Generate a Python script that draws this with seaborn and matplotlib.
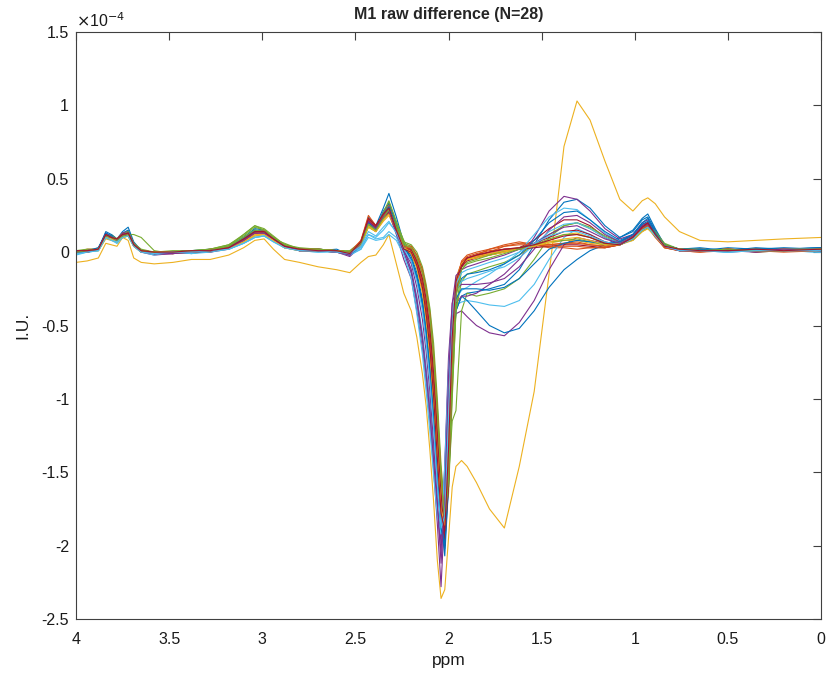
import numpy as np
import pandas as pd
import matplotlib
matplotlib.use("Agg")
import matplotlib.pyplot as plt
import seaborn as sns

# chemical shift grid (ppm)
ppm = [4.00, 3.94, 3.88, 3.84, 3.81, 3.78, 3.75, 3.72, 3.69, 3.65,
       3.58, 3.48, 3.38, 3.28, 3.18, 3.10, 3.04, 2.99, 2.94, 2.88, 2.80, 2.70, 2.60,
       2.53, 2.47, 2.43, 2.39, 2.35, 2.32, 2.28, 2.24,
       2.20, 2.17, 2.14, 2.12, 2.10, 2.08, 2.06, 2.04, 2.02, 2.00, 1.98, 1.96, 1.93, 1.90,
       1.85, 1.78, 1.70, 1.62, 1.54, 1.46, 1.38, 1.31, 1.24, 1.16, 1.08,
       1.01, 0.96, 0.93, 0.89, 0.84, 0.76, 0.65, 0.50, 0.35, 0.20, 0.00]

# difference spectra, in units of 1e-4 I.U.
subj01 = [0.01, 0.00, 0.03, 0.13, 0.10, 0.09, 0.14, 0.17, 0.07, 0.01,
          -0.01, 0.00, -0.01, 0.01, 0.04, 0.10, 0.16, 0.15, 0.10, 0.04, 0.02, 0.01, 0.02,
          -0.02, 0.06, 0.24, 0.18, 0.30, 0.40, 0.24, 0.06,
          -0.06, -0.18, -0.36, -0.55, -0.80, -1.12, -1.50, -1.85, -2.07, -1.60, -0.80, -0.40, -0.30, -0.28,
          -0.27, -0.25, -0.22, -0.12, 0.05, 0.22, 0.34, 0.36, 0.30, 0.18, 0.10,
          0.14, 0.22, 0.24, 0.15, 0.05, 0.02, 0.03, 0.01, 0.03, 0.02, 0.03]
subj02 = [0.00, 0.02, 0.02, 0.11, 0.09, 0.08, 0.12, 0.13, 0.05, 0.01,
          0.00, -0.01, 0.01, 0.01, 0.03, 0.09, 0.14, 0.13, 0.08, 0.03, 0.02, 0.02, 0.01,
          0.00, 0.07, 0.22, 0.17, 0.25, 0.30, 0.18, 0.04,
          0.02, -0.06, -0.20, -0.35, -0.55, -0.85, -1.25, -1.65, -1.85, -1.30, -0.55, -0.18, -0.07, -0.04,
          -0.02, 0.02, 0.05, 0.07, 0.05, 0.03, 0.03, 0.02, 0.03, 0.03, 0.05,
          0.09, 0.15, 0.17, 0.10, 0.03, 0.01, 0.00, 0.02, 0.01, 0.02, 0.01]
subj03 = [-0.07, -0.06, -0.04, 0.06, 0.05, 0.04, 0.10, 0.08, -0.04, -0.07,
          -0.08, -0.07, -0.05, -0.05, -0.02, 0.03, 0.08, 0.09, 0.02, -0.05, -0.07, -0.10, -0.12,
          -0.14, -0.07, -0.03, -0.02, 0.05, 0.12, -0.08, -0.28,
          -0.40, -0.58, -0.83, -1.05, -1.35, -1.70, -2.10, -2.36, -2.30, -1.95, -1.60, -1.46, -1.42, -1.46,
          -1.57, -1.75, -1.88, -1.46, -0.95, -0.15, 0.72, 1.03, 0.90, 0.62, 0.36,
          0.28, 0.35, 0.37, 0.33, 0.24, 0.14, 0.08, 0.07, 0.08, 0.09, 0.10]
subj04 = [-0.01, 0.01, 0.02, 0.12, 0.11, 0.07, 0.12, 0.14, 0.05, 0.00,
          -0.02, -0.01, 0.00, 0.00, 0.02, 0.07, 0.12, 0.13, 0.09, 0.04, 0.01, 0.02, 0.00,
          -0.03, 0.04, 0.18, 0.14, 0.22, 0.27, 0.12, -0.05,
          -0.18, -0.40, -0.65, -0.88, -1.15, -1.48, -1.85, -2.28, -1.75, -0.95, -0.52, -0.42, -0.40, -0.44,
          -0.50, -0.55, -0.57, -0.48, -0.33, -0.12, 0.05, 0.10, 0.08, 0.06, 0.07,
          0.12, 0.19, 0.20, 0.12, 0.04, 0.01, 0.02, 0.00, 0.01, 0.02, 0.01]
subj05 = [0.00, 0.01, 0.01, 0.10, 0.12, 0.09, 0.11, 0.12, 0.12, 0.10,
          0.01, -0.01, 0.00, 0.02, 0.05, 0.12, 0.18, 0.15, 0.09, 0.06, 0.02, 0.02, 0.01,
          0.00, 0.05, 0.17, 0.14, 0.26, 0.34, 0.20, 0.08,
          -0.02, -0.10, -0.25, -0.42, -0.65, -0.95, -1.35, -1.70, -1.85, -1.55, -1.15, -1.08, -0.40, -0.28,
          -0.30, -0.28, -0.25, -0.18, -0.05, 0.10, 0.18, 0.20, 0.16, 0.10, 0.06,
          0.08, 0.14, 0.17, 0.13, 0.05, 0.02, 0.01, 0.02, 0.00, 0.01, 0.02]
subj06 = [-0.02, 0.00, 0.01, 0.10, 0.08, 0.06, 0.10, 0.11, 0.04, 0.00,
          -0.01, 0.00, 0.00, 0.01, 0.02, 0.06, 0.10, 0.11, 0.08, 0.03, 0.01, 0.01, 0.00,
          -0.02, 0.02, 0.12, 0.10, 0.15, 0.20, 0.14, 0.02,
          -0.12, -0.30, -0.55, -0.78, -1.02, -1.32, -1.65, -1.85, -1.55, -0.85, -0.45, -0.36, -0.34, -0.33,
          -0.34, -0.36, -0.37, -0.33, -0.22, -0.05, 0.10, 0.16, 0.12, 0.06, 0.05,
          0.10, 0.16, 0.18, 0.12, 0.04, 0.02, 0.01, 0.00, 0.02, 0.01, 0.00]
subj07 = [0.01, 0.01, 0.02, 0.11, 0.10, 0.08, 0.12, 0.12, 0.05, 0.01,
          -0.01, -0.01, 0.01, 0.01, 0.03, 0.08, 0.13, 0.14, 0.10, 0.05, 0.02, 0.01, 0.01,
          -0.01, 0.06, 0.21, 0.16, 0.24, 0.28, 0.15, 0.02,
          0.01, -0.08, -0.22, -0.38, -0.60, -0.90, -1.30, -1.70, -2.00, -1.45, -0.65, -0.22, -0.10, -0.06,
          -0.04, -0.02, 0.00, 0.03, 0.08, 0.16, 0.22, 0.22, 0.18, 0.10, 0.06,
          0.09, 0.16, 0.18, 0.11, 0.04, 0.01, 0.01, 0.02, 0.00, 0.01, 0.02]
subj08 = [0.00, 0.01, 0.02, 0.14, 0.12, 0.09, 0.13, 0.15, 0.06, 0.01,
          0.00, 0.00, 0.01, 0.02, 0.03, 0.09, 0.15, 0.14, 0.10, 0.04, 0.02, 0.02, 0.01,
          -0.01, 0.05, 0.20, 0.16, 0.28, 0.33, 0.19, 0.05,
          -0.03, -0.14, -0.32, -0.52, -0.78, -1.10, -1.50, -1.85, -2.00, -1.60, -0.80, -0.40, -0.30, -0.33,
          -0.40, -0.50, -0.55, -0.52, -0.40, -0.24, -0.12, -0.05, 0.01, 0.05, 0.10,
          0.15, 0.23, 0.26, 0.16, 0.05, 0.02, 0.01, 0.03, 0.02, 0.02, 0.03]
subj09 = [0.01, 0.00, 0.02, 0.12, 0.10, 0.09, 0.13, 0.14, 0.06, 0.01,
          -0.01, 0.00, 0.00, 0.01, 0.04, 0.09, 0.14, 0.15, 0.10, 0.04, 0.01, 0.01, 0.00,
          -0.02, 0.08, 0.25, 0.18, 0.26, 0.32, 0.16, 0.03,
          0.03, -0.04, -0.15, -0.28, -0.45, -0.72, -1.10, -1.55, -1.80, -1.55, -0.80, -0.30, -0.10, -0.05,
          -0.03, 0.00, 0.04, 0.06, 0.06, 0.05, 0.06, 0.07, 0.05, 0.04, 0.06,
          0.11, 0.18, 0.20, 0.12, 0.04, 0.02, 0.01, 0.01, 0.02, 0.01, 0.02]
subj10 = [0.00, 0.01, 0.01, 0.10, 0.09, 0.07, 0.11, 0.12, 0.05, 0.00,
          0.00, -0.01, 0.00, 0.01, 0.03, 0.08, 0.12, 0.13, 0.09, 0.03, 0.02, 0.01, 0.01,
          0.00, 0.06, 0.19, 0.15, 0.22, 0.27, 0.16, 0.04,
          0.00, -0.10, -0.26, -0.44, -0.68, -1.00, -1.40, -1.78, -1.90, -1.25, -0.50, -0.18, -0.08, -0.05,
          -0.03, -0.02, 0.00, 0.02, 0.04, 0.06, 0.08, 0.08, 0.06, 0.05, 0.06,
          0.10, 0.15, 0.17, 0.12, 0.04, 0.01, 0.02, 0.01, 0.02, 0.02, 0.01]
subj11 = [0.01, 0.00, 0.02, 0.13, 0.11, 0.08, 0.13, 0.14, 0.06, 0.01,
          -0.01, 0.00, 0.00, 0.01, 0.03, 0.08, 0.13, 0.14, 0.10, 0.04, 0.01, 0.02, 0.01,
          -0.02, 0.05, 0.20, 0.17, 0.25, 0.29, 0.15, 0.02,
          -0.12, -0.32, -0.58, -0.82, -1.08, -1.40, -1.75, -2.05, -1.50, -0.80, -0.45, -0.35, -0.30, -0.30,
          -0.28, -0.22, -0.15, -0.05, 0.10, 0.28, 0.38, 0.36, 0.28, 0.16, 0.09,
          0.12, 0.20, 0.22, 0.14, 0.05, 0.01, 0.02, 0.01, 0.01, 0.02, 0.02]
subj12 = [0.01, 0.02, 0.02, 0.11, 0.10, 0.08, 0.12, 0.13, 0.06, 0.02,
          0.00, 0.01, 0.01, 0.02, 0.05, 0.11, 0.17, 0.15, 0.10, 0.05, 0.03, 0.02, 0.01,
          0.01, 0.07, 0.20, 0.16, 0.24, 0.30, 0.19, 0.06,
          0.04, -0.02, -0.12, -0.24, -0.40, -0.68, -1.05, -1.50, -1.80, -1.60, -0.95, -0.40, -0.20, -0.15,
          -0.13, -0.10, -0.07, -0.02, 0.05, 0.12, 0.18, 0.20, 0.17, 0.11, 0.07,
          0.10, 0.17, 0.19, 0.13, 0.05, 0.02, 0.02, 0.01, 0.02, 0.01, 0.01]
subj13 = [-0.01, 0.00, 0.02, 0.11, 0.09, 0.07, 0.10, 0.12, 0.05, 0.00,
          -0.02, 0.00, 0.00, 0.01, 0.02, 0.07, 0.11, 0.12, 0.08, 0.03, 0.01, 0.00, 0.01,
          -0.01, 0.03, 0.12, 0.09, 0.10, 0.14, 0.10, 0.00,
          -0.15, -0.36, -0.62, -0.86, -1.12, -1.42, -1.72, -1.95, -1.55, -0.90, -0.50, -0.32, -0.26, -0.24,
          -0.20, -0.15, -0.08, 0.00, 0.12, 0.24, 0.30, 0.29, 0.22, 0.13, 0.07,
          0.10, 0.17, 0.19, 0.12, 0.04, 0.01, 0.02, 0.00, 0.02, 0.01, 0.00]
subj14 = [0.00, 0.01, 0.02, 0.12, 0.11, 0.08, 0.12, 0.13, 0.05, 0.01,
          0.00, 0.00, 0.01, 0.00, 0.03, 0.08, 0.13, 0.14, 0.09, 0.04, 0.02, 0.01, 0.01,
          -0.01, 0.07, 0.22, 0.18, 0.25, 0.29, 0.14, 0.01,
          -0.01, -0.10, -0.26, -0.44, -0.68, -1.00, -1.42, -1.80, -1.92, -1.35, -0.60, -0.22, -0.10, -0.05,
          -0.03, -0.01, 0.01, 0.03, 0.06, 0.10, 0.14, 0.15, 0.12, 0.07, 0.05,
          0.09, 0.16, 0.19, 0.12, 0.04, 0.02, 0.01, 0.02, 0.01, 0.02, 0.01]
subj15 = [0.00, 0.01, 0.03, 0.12, 0.11, 0.08, 0.12, 0.14, 0.06, 0.01,
          -0.01, 0.00, 0.01, 0.01, 0.04, 0.10, 0.15, 0.14, 0.09, 0.04, 0.02, 0.01, 0.01,
          -0.02, 0.05, 0.19, 0.15, 0.24, 0.30, 0.17, 0.04,
          -0.05, -0.17, -0.36, -0.56, -0.82, -1.15, -1.55, -1.90, -1.95, -1.30, -0.60, -0.28, -0.18, -0.15,
          -0.14, -0.12, -0.08, -0.02, 0.08, 0.20, 0.27, 0.28, 0.22, 0.14, 0.08,
          0.12, 0.20, 0.23, 0.14, 0.05, 0.02, 0.02, 0.01, 0.02, 0.03, 0.02]
subj16 = [0.01, 0.01, 0.02, 0.11, 0.10, 0.08, 0.12, 0.12, 0.05, 0.01,
          0.00, 0.00, 0.00, 0.02, 0.03, 0.08, 0.13, 0.14, 0.09, 0.04, 0.02, 0.01, 0.01,
          0.00, 0.07, 0.23, 0.17, 0.24, 0.28, 0.15, 0.03,
          0.02, -0.06, -0.18, -0.33, -0.52, -0.82, -1.22, -1.65, -1.88, -1.40, -0.62, -0.20, -0.07, -0.03,
          -0.01, 0.01, 0.02, 0.03, 0.04, 0.05, 0.06, 0.06, 0.05, 0.04, 0.05,
          0.10, 0.16, 0.18, 0.11, 0.03, 0.01, 0.01, 0.02, 0.01, 0.01, 0.02]
subj17 = [0.01, 0.01, 0.01, 0.09, 0.08, 0.07, 0.10, 0.11, 0.04, 0.00,
          -0.01, 0.00, 0.00, 0.01, 0.02, 0.07, 0.11, 0.12, 0.08, 0.03, 0.01, 0.01, 0.00,
          -0.01, 0.05, 0.17, 0.14, 0.21, 0.25, 0.14, 0.03,
          -0.01, -0.11, -0.28, -0.48, -0.72, -1.05, -1.45, -1.80, -1.88, -1.30, -0.55, -0.20, -0.09, -0.05,
          -0.04, -0.02, 0.00, 0.02, 0.04, 0.08, 0.12, 0.13, 0.10, 0.06, 0.05,
          0.08, 0.14, 0.16, 0.11, 0.04, 0.02, 0.01, 0.02, 0.01, 0.02, 0.01]
subj18 = [0.00, 0.01, 0.02, 0.12, 0.10, 0.08, 0.12, 0.13, 0.06, 0.01,
          -0.01, -0.01, 0.00, 0.01, 0.03, 0.08, 0.13, 0.13, 0.09, 0.04, 0.01, 0.01, 0.00,
          -0.02, 0.06, 0.21, 0.16, 0.23, 0.27, 0.13, 0.00,
          -0.14, -0.34, -0.60, -0.84, -1.10, -1.42, -1.75, -1.98, -1.45, -0.72, -0.35, -0.25, -0.22, -0.22,
          -0.22, -0.21, -0.18, -0.10, 0.02, 0.15, 0.24, 0.25, 0.20, 0.12, 0.07,
          0.11, 0.18, 0.20, 0.13, 0.04, 0.01, 0.02, 0.01, 0.00, 0.02, 0.01]
subj19 = [0.01, 0.01, 0.02, 0.12, 0.11, 0.09, 0.12, 0.14, 0.06, 0.01,
          0.00, 0.00, 0.01, 0.02, 0.04, 0.12, 0.18, 0.16, 0.11, 0.05, 0.02, 0.02, 0.01,
          0.00, 0.06, 0.21, 0.16, 0.27, 0.35, 0.21, 0.07,
          0.05, 0.00, -0.10, -0.22, -0.38, -0.62, -1.00, -1.45, -1.75, -1.65, -1.00, -0.40, -0.12, -0.07,
          -0.05, -0.02, 0.01, 0.03, 0.05, 0.07, 0.08, 0.09, 0.07, 0.05, 0.06,
          0.10, 0.16, 0.19, 0.14, 0.06, 0.02, 0.02, 0.01, 0.02, 0.01, 0.02]
subj20 = [-0.01, 0.00, 0.01, 0.10, 0.09, 0.06, 0.10, 0.11, 0.04, 0.00,
          -0.01, 0.00, -0.01, 0.00, 0.02, 0.06, 0.10, 0.11, 0.07, 0.03, 0.01, 0.00, 0.00,
          -0.02, 0.02, 0.10, 0.08, 0.09, 0.12, 0.08, -0.02,
          -0.18, -0.42, -0.70, -0.95, -1.22, -1.52, -1.80, -1.92, -1.45, -0.80, -0.42, -0.26, -0.20, -0.18,
          -0.16, -0.13, -0.10, -0.04, 0.05, 0.14, 0.19, 0.20, 0.16, 0.10, 0.06,
          0.09, 0.15, 0.17, 0.11, 0.04, 0.01, 0.01, 0.00, 0.01, 0.01, 0.00]
subj21 = [0.00, 0.00, 0.02, 0.11, 0.10, 0.08, 0.11, 0.12, 0.05, 0.01,
          -0.01, 0.00, 0.00, 0.01, 0.03, 0.08, 0.13, 0.14, 0.09, 0.04, 0.01, 0.01, 0.00,
          -0.01, 0.06, 0.21, 0.17, 0.24, 0.27, 0.14, 0.02,
          0.02, -0.06, -0.18, -0.32, -0.52, -0.82, -1.22, -1.65, -1.95, -1.60, -0.80, -0.28, -0.10, -0.04,
          -0.02, 0.00, 0.02, 0.02, 0.03, 0.04, 0.05, 0.05, 0.04, 0.03, 0.05,
          0.09, 0.15, 0.17, 0.11, 0.04, 0.01, 0.01, 0.02, 0.01, 0.02, 0.01]
subj22 = [0.00, 0.00, 0.02, 0.13, 0.11, 0.08, 0.12, 0.13, 0.05, 0.01,
          -0.01, 0.00, 0.00, 0.01, 0.03, 0.09, 0.14, 0.14, 0.09, 0.04, 0.02, 0.01, 0.01,
          -0.01, 0.05, 0.20, 0.16, 0.26, 0.31, 0.17, 0.04,
          -0.05, -0.16, -0.34, -0.54, -0.80, -1.12, -1.52, -1.88, -2.02, -1.45, -0.70, -0.32, -0.25, -0.25,
          -0.25, -0.26, -0.24, -0.18, -0.08, 0.02, 0.06, 0.08, 0.07, 0.06, 0.07,
          0.12, 0.19, 0.21, 0.13, 0.05, 0.02, 0.02, 0.01, 0.02, 0.02, 0.03]
subj23 = [0.00, 0.01, 0.02, 0.12, 0.10, 0.09, 0.12, 0.13, 0.05, 0.01,
          0.00, 0.00, 0.01, 0.01, 0.03, 0.08, 0.13, 0.14, 0.09, 0.04, 0.02, 0.02, 0.01,
          0.00, 0.08, 0.23, 0.18, 0.25, 0.29, 0.16, 0.04,
          0.04, -0.02, -0.12, -0.25, -0.42, -0.70, -1.08, -1.52, -1.84, -1.55, -0.78, -0.26, -0.06, -0.02,
          0.00, 0.02, 0.04, 0.05, 0.05, 0.04, 0.04, 0.04, 0.03, 0.03, 0.05,
          0.10, 0.16, 0.18, 0.11, 0.03, 0.01, 0.00, 0.01, 0.01, 0.00, 0.01]
subj24 = [0.01, 0.00, 0.02, 0.10, 0.09, 0.07, 0.10, 0.11, 0.04, 0.00,
          0.00, 0.00, 0.00, 0.01, 0.03, 0.07, 0.12, 0.12, 0.08, 0.03, 0.01, 0.01, 0.01,
          -0.01, 0.05, 0.18, 0.14, 0.22, 0.26, 0.15, 0.03,
          0.00, -0.09, -0.24, -0.42, -0.65, -0.98, -1.38, -1.75, -1.86, -1.35, -0.60, -0.22, -0.08, -0.05,
          -0.03, -0.01, 0.01, 0.02, 0.04, 0.07, 0.09, 0.10, 0.08, 0.05, 0.05,
          0.09, 0.14, 0.16, 0.11, 0.04, 0.02, 0.01, 0.01, 0.01, 0.02, 0.02]
subj25 = [0.01, 0.00, 0.02, 0.12, 0.10, 0.08, 0.12, 0.13, 0.05, 0.00,
          -0.01, -0.01, 0.00, 0.01, 0.03, 0.08, 0.13, 0.13, 0.09, 0.04, 0.01, 0.01, 0.00,
          -0.02, 0.06, 0.21, 0.16, 0.24, 0.28, 0.14, 0.01,
          -0.08, -0.24, -0.46, -0.68, -0.95, -1.30, -1.70, -2.12, -1.70, -0.85, -0.35, -0.16, -0.12, -0.10,
          -0.08, -0.05, -0.02, 0.02, 0.06, 0.12, 0.17, 0.18, 0.14, 0.09, 0.06,
          0.10, 0.17, 0.19, 0.12, 0.04, 0.01, 0.01, 0.01, 0.01, 0.02, 0.01]
subj26 = [0.00, 0.01, 0.02, 0.11, 0.10, 0.08, 0.11, 0.12, 0.05, 0.01,
          0.00, 0.00, 0.01, 0.01, 0.04, 0.10, 0.15, 0.14, 0.10, 0.05, 0.02, 0.02, 0.01,
          0.00, 0.06, 0.19, 0.15, 0.23, 0.29, 0.17, 0.05,
          0.03, -0.04, -0.14, -0.27, -0.44, -0.72, -1.10, -1.55, -1.82, -1.55, -0.85, -0.30, -0.12, -0.08,
          -0.06, -0.04, -0.01, 0.02, 0.05, 0.09, 0.12, 0.12, 0.10, 0.06, 0.05,
          0.09, 0.15, 0.17, 0.12, 0.05, 0.02, 0.01, 0.02, 0.01, 0.01, 0.02]
subj27 = [-0.01, 0.00, 0.01, 0.10, 0.08, 0.07, 0.10, 0.11, 0.04, 0.00,
          -0.01, 0.00, 0.00, 0.01, 0.02, 0.06, 0.10, 0.11, 0.07, 0.03, 0.01, 0.01, 0.00,
          -0.01, 0.04, 0.14, 0.11, 0.17, 0.21, 0.13, 0.02,
          -0.06, -0.20, -0.40, -0.62, -0.88, -1.20, -1.58, -1.88, -1.80, -1.15, -0.55, -0.22, -0.14, -0.12,
          -0.10, -0.07, -0.04, 0.00, 0.06, 0.11, 0.14, 0.14, 0.11, 0.07, 0.05,
          0.09, 0.15, 0.17, 0.11, 0.04, 0.01, 0.01, 0.00, 0.01, 0.01, 0.01]
subj28 = [0.01, 0.01, 0.02, 0.12, 0.10, 0.09, 0.12, 0.13, 0.05, 0.01,
          0.00, 0.00, 0.01, 0.01, 0.03, 0.09, 0.14, 0.14, 0.09, 0.04, 0.02, 0.01, 0.01,
          -0.01, 0.07, 0.23, 0.18, 0.26, 0.30, 0.15, 0.02,
          0.00, -0.09, -0.24, -0.42, -0.65, -0.98, -1.40, -1.78, -1.90, -1.35, -0.58, -0.20, -0.09, -0.04,
          -0.02, 0.00, 0.02, 0.03, 0.05, 0.08, 0.11, 0.12, 0.10, 0.06, 0.05,
          0.10, 0.17, 0.20, 0.12, 0.04, 0.02, 0.01, 0.01, 0.02, 0.01, 0.02]

subjects = [subj01, subj02, subj03, subj04, subj05, subj06, subj07, subj08, subj09, subj10,
            subj11, subj12, subj13, subj14, subj15, subj16, subj17, subj18, subj19, subj20,
            subj21, subj22, subj23, subj24, subj25, subj26, subj27, subj28]

x_ticks = [0, 0.5, 1, 1.5, 2, 2.5, 3, 3.5, 4]
y_ticks = [-2.5, -2, -1.5, -1, -0.5, 0, 0.5, 1, 1.5]

matlab_colors = ["#0072BD", "#D95319", "#EDB120", "#7E2F8E", "#77AC30", "#4DBEEE", "#A2142F"]

rows = []
for i, s in enumerate(subjects):
    for xv, yv in zip(ppm, s):
        rows.append({"ppm": xv, "val": yv, "subject": f"S{i+1:02d}"})
df = pd.DataFrame(rows)
palette = {f"S{i+1:02d}": matlab_colors[i % 7] for i in range(len(subjects))}

sns.set_style("white")
plt.rcParams["font.family"] = ["Liberation Sans", "DejaVu Sans"]

fig = plt.figure(figsize=(8.3, 6.77), dpi=100)
ax = fig.add_axes([76/830, 1-619/677, (821-76)/830, (619-32)/677])

sns.lineplot(data=df, x="ppm", y="val", hue="subject", palette=palette,
             estimator=None, sort=False, legend=False, linewidth=0.8, ax=ax)

ax.set_xlim(4, 0)
ax.set_ylim(-2.5, 1.5)
ax.set_xticks(x_ticks)
ax.set_yticks(y_ticks)
ax.set_xticklabels([f"{t:g}" for t in x_ticks])
ax.set_yticklabels([f"{t:g}" for t in y_ticks])
for sp in ax.spines.values():
    sp.set_visible(True)
    sp.set_color("#404040")
    sp.set_linewidth(0.8)
ax.tick_params(direction="in", length=6, width=0.8, color="#404040",
               top=True, right=True, labelsize=11.5, labelcolor="#1a1a1a", pad=5)
ax.tick_params(axis="x", pad=9)
ax.set_xlabel("ppm", fontsize=12.5, color="#1a1a1a", labelpad=5)
ax.set_ylabel("I.U.", fontsize=12.5, color="#1a1a1a", labelpad=8)
ax.set_title("M1 raw difference (N=28)", fontsize=11.5, fontweight="bold", pad=9)
ax.text(0.0, 1.004, r"$\times$10$^{-4}$", transform=ax.transAxes, fontsize=11.5,
        ha="left", va="bottom", color="#1a1a1a")

fig.savefig("out.png", dpi=100, facecolor="white")
